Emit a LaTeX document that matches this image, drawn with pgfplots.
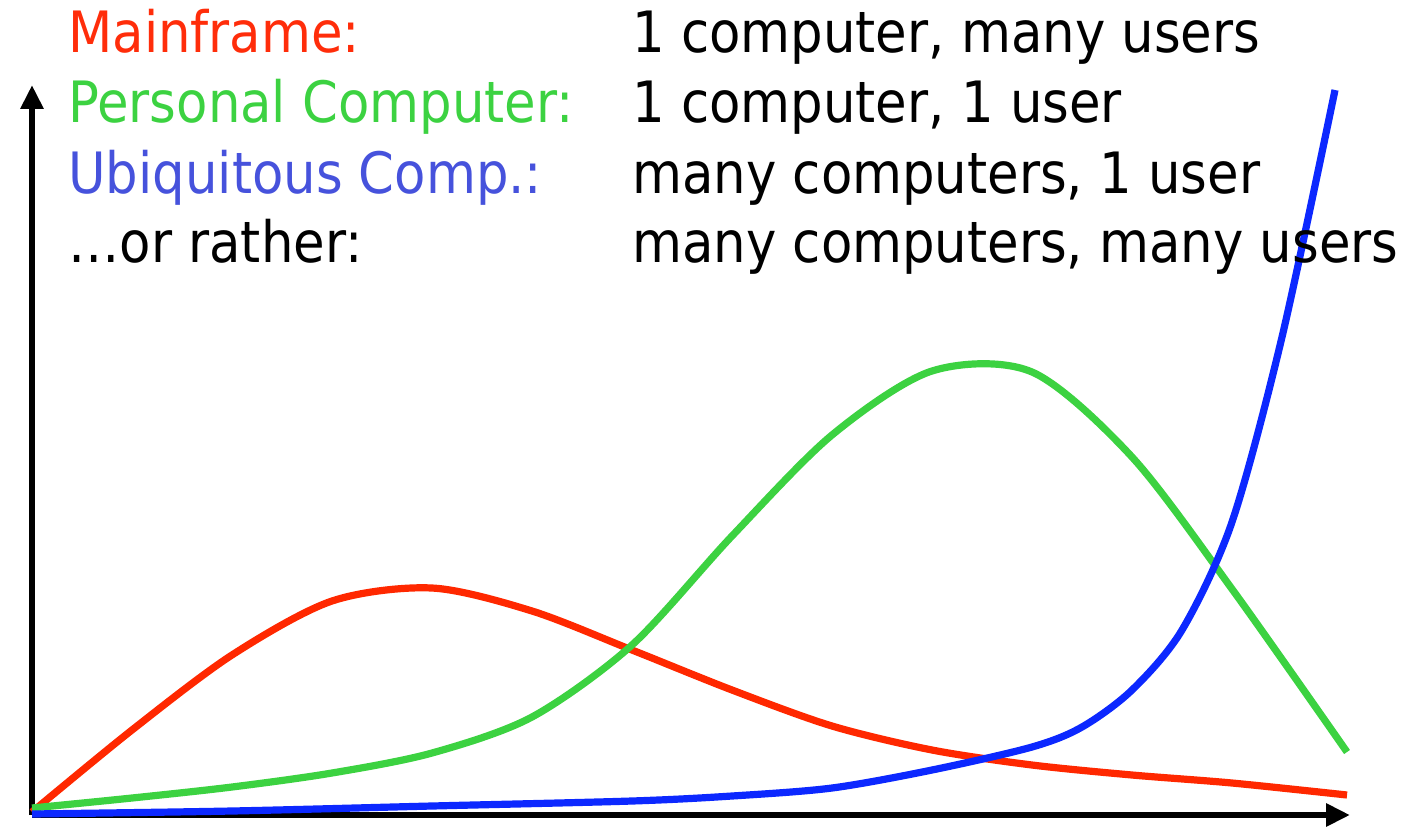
\documentclass[border=0pt]{standalone}
\usepackage{pgfplots}
\pgfplotsset{compat=1.18}
\usepackage{fontspec}
\setmainfont{DejaVu Sans Condensed}
\usetikzlibrary{arrows.meta}
\definecolor{cred}{RGB}{255,40,0}
\definecolor{cgreen}{RGB}{60,210,65}
\definecolor{cblue}{RGB}{12,40,255}
\definecolor{tred}{RGB}{255,45,10}
\definecolor{tblue}{RGB}{70,82,220}
\begin{document}
\begin{tikzpicture}
\begin{axis}[
  scale only axis, width=659pt, height=365pt,
  xmin=0, xmax=1318, ymin=0, ymax=730,
  axis x line=bottom, axis y line=left,
  axis line style={line width=3.2pt, -{Triangle[length=12pt,width=11pt]}},
  xtick=\empty, ytick=\empty,
  clip=false,
]
\path (axis cs:-32,-11) rectangle (axis cs:1384,815);
% red: mainframe
\addplot[cred, line width=3.6pt, smooth] coordinates {
(0,3) (100,85) (200,160) (300,214) (400,227) (500,204) (600,165) (700,125)
(800,89) (900,65) (1000,50) (1100,40) (1200,32) (1315,20)};
% green: personal computer
\addplot[cgreen, line width=3.6pt, smooth] coordinates {
(0,7) (100,17) (200,28) (300,42) (400,62) (500,98) (600,170) (700,279)
(800,380) (900,444) (1000,443) (1100,358) (1200,226) (1315,63)};
% blue: ubiquitous
\addplot[cblue, line width=3.6pt, smooth] coordinates {
(0,1) (200,4) (400,9) (600,14) (700,19) (800,27) (900,45) (1000,68)
(1050,88) (1100,125) (1150,185) (1200,293) (1250,478) (1303,725)};
\node[anchor=base west, inner sep=0pt, font=\fontsize{28.5}{34}\selectfont, text=tred] at (axis cs:36,762) {Mainframe:};
\node[anchor=base west, inner sep=0pt, font=\fontsize{28.5}{34}\selectfont, text=cgreen] at (axis cs:36,692) {Personal Computer:};
\node[anchor=base west, inner sep=0pt, font=\fontsize{28.5}{34}\selectfont, text=tblue] at (axis cs:36,622) {Ubiquitous Comp.:};
\node[anchor=base west, inner sep=0pt, font=\fontsize{28.5}{34}\selectfont] at (axis cs:36,553) {…or rather:};
\node[anchor=base west, inner sep=0pt, font=\fontsize{28.5}{34}\selectfont] at (axis cs:600,762) {1 computer, many users};
\node[anchor=base west, inner sep=0pt, font=\fontsize{28.5}{34}\selectfont] at (axis cs:600,692) {1 computer, 1 user};
\node[anchor=base west, inner sep=0pt, font=\fontsize{28.5}{34}\selectfont] at (axis cs:600,622) {many computers, 1 user};
\node[anchor=base west, inner sep=0pt, font=\fontsize{28.5}{34}\selectfont] at (axis cs:600,553) {many computers, many users};
\end{axis}
\end{tikzpicture}
\end{document}
